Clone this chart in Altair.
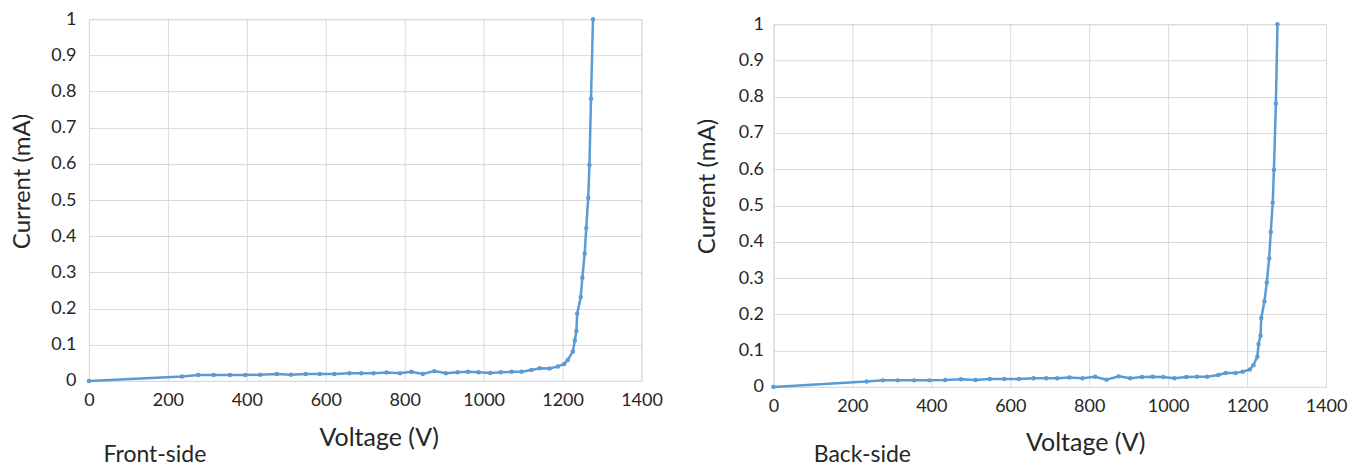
import altair as alt
import pandas as pd

# Front-side I-V data
front_v = [0, 236, 277, 316, 357, 396, 434, 476, 512, 549, 585, 622, 660, 690, 721, 754, 788, 817,
           846, 875, 904, 934, 960, 987, 1017, 1043, 1071, 1096, 1121, 1142, 1167, 1188, 1204, 1213,
           1226, 1231, 1235, 1237, 1246, 1250, 1256, 1260, 1265, 1268, 1272, 1277]
front_i = [0, 0.012, 0.016, 0.016, 0.016, 0.016, 0.017, 0.019, 0.017, 0.019, 0.019, 0.019, 0.021,
           0.021, 0.021, 0.023, 0.021, 0.025, 0.019, 0.027, 0.021, 0.024, 0.025, 0.024, 0.022, 0.024,
           0.025, 0.025, 0.030, 0.035, 0.034, 0.040, 0.047, 0.058, 0.081, 0.112, 0.138, 0.186, 0.232,
           0.285, 0.352, 0.423, 0.506, 0.597, 0.780, 1.0]

# Back-side I-V data
back_v = [0, 236, 277, 315, 357, 395, 435, 475, 512, 548, 585, 622, 659, 691, 719, 750, 783, 815,
          844, 875, 904, 934, 961, 988, 1016, 1046, 1073, 1099, 1127, 1146, 1171, 1189, 1207, 1216,
          1226, 1229, 1234, 1236, 1244, 1250, 1256, 1260, 1265, 1268, 1273, 1277]
back_i = [0, 0.015, 0.018, 0.018, 0.018, 0.018, 0.019, 0.021, 0.019, 0.022, 0.022, 0.022, 0.024,
          0.024, 0.024, 0.026, 0.024, 0.028, 0.020, 0.029, 0.024, 0.027, 0.028, 0.027, 0.024, 0.027,
          0.028, 0.028, 0.033, 0.038, 0.038, 0.042, 0.048, 0.060, 0.083, 0.118, 0.141, 0.190, 0.236,
          0.288, 0.354, 0.427, 0.508, 0.598, 0.781, 1.0]

x_ticks = [0, 200, 400, 600, 800, 1000, 1200, 1400]
y_ticks = [0, 0.1, 0.2, 0.3, 0.4, 0.5, 0.6, 0.7, 0.8, 0.9, 1.0]

FONT = "Lato"
LINE = "#5B9BD5"
GRID = "#d9d9d9"
TXT = "#262626"
W = 553


def panel(v, i, label, h, ylabpad, xtitle_x, xtitle_y, lab_x, lab_y):
    df = pd.DataFrame({"V": v, "I": i})
    x = alt.X("V:Q", scale=alt.Scale(domain=[0, 1400], nice=False),
              axis=alt.Axis(values=x_ticks, format="d", title="Voltage (V)", grid=True,
                            gridColor=GRID, gridWidth=1, domain=False, ticks=False,
                            labelFontSize=18, labelFont=FONT, labelColor=TXT, labelPadding=11,
                            titleFont=FONT, titleFontSize=25, titleFontWeight="normal",
                            titleColor=TXT, titleX=xtitle_x, titleY=xtitle_y,
                            titleBaseline="middle", titleAlign="center", labelFlush=False))
    y = alt.Y("I:Q", scale=alt.Scale(domain=[0, 1], nice=False),
              axis=alt.Axis(values=y_ticks, title="Current (mA)", format="~g", grid=True,
                            gridColor=GRID, gridWidth=1, domain=False, ticks=False,
                            labelFontSize=18, labelFont=FONT, labelColor=TXT,
                            labelPadding=ylabpad,
                            titleFont=FONT, titleFontSize=24,
                            titleFontWeight="normal", titleColor=TXT, titleX=-66, titleY=162,
                            titleBaseline="middle", titleAlign="center", labelFlush=False))
    line = alt.Chart(df).mark_line(
        color=LINE, strokeWidth=2.5,
        point=alt.OverlayMarkDef(filled=True, size=20, color=LINE)
    ).encode(x=x, y=y)
    tdf = pd.DataFrame({"t": [label]})
    txt = alt.Chart(tdf).mark_text(font=FONT, fontSize=23, color=TXT, align="center",
                                   baseline="middle").encode(
        text="t:N", x=alt.value(lab_x), y=alt.value(lab_y))
    return alt.layer(line, txt).properties(width=W, height=h)


left = panel(front_v, front_i, "Front-side", 362, 13, 290, 57, 66, 436)
right = panel(back_v, back_i, "Back-side", 363, 10, 312, 56, 89, 431)

spacer = alt.Chart(pd.DataFrame({"t": [""]})).mark_text().encode(
    text="t:N").properties(width=W, height=1)
right_col = alt.vconcat(spacer, right, spacing=4, bounds="flush")

chart = alt.hconcat(left, right_col, spacing=132, bounds="flush").properties(
    padding={"left": 2, "top": 1, "right": 0, "bottom": 0}
).configure_view(stroke=None).configure(background="white")

chart.save("out.html", embed_options={"renderer": "svg", "actions": False})
